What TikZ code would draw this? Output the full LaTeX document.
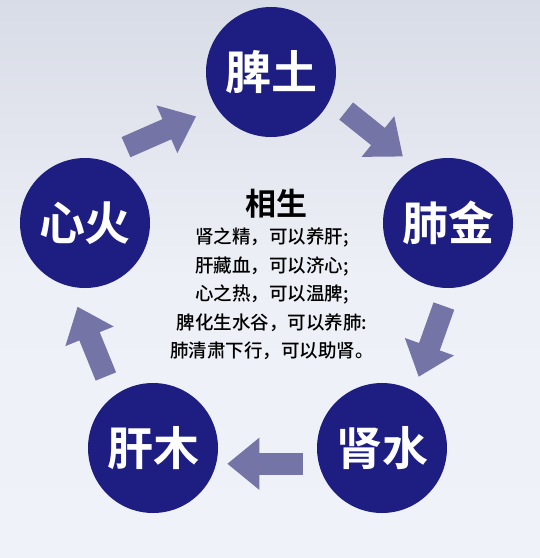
\documentclass[tikz,border=0pt]{standalone}
\usepackage{fontspec}
\newfontfamily\cjk{Noto Sans CJK SC}[BoldFont={Noto Sans CJK SC Bold}]
\newfontfamily\cjkm{Noto Sans CJK SC Medium}
\usetikzlibrary{arrows.meta}
\definecolor{cNavy}{RGB}{30,30,130}
\definecolor{cArrow}{RGB}{116,116,166}
\definecolor{bgTop}{RGB}{216,220,230}
\definecolor{bgMid}{RGB}{238,240,247}
\definecolor{bgBot}{RGB}{240,242,249}
\tikzset{
  wx/.style={circle,fill=cNavy,inner sep=0pt,minimum size=130pt,text=white,
    font=\cjk\bfseries\fontsize{46}{46}\selectfont},
  sheng/.style={draw=cArrow,line width=22pt,-{Triangle[length=32pt,width=50pt]}},
}

\begin{document}
\begin{tikzpicture}[x=1pt,y=-1pt]
\shade[top color=bgTop,bottom color=bgBot,middle color=bgMid] (0,0) rectangle (540,558);
\path[use as bounding box] (0,0) rectangle (540,558);
% wu xing
\node[wx] (pi) at (271,72) {脾土};
\node[wx] (fei) at (448,223) {肺金};
\node[wx] (shen) at (382,448) {肾水};
\node[wx] (gan) at (153,448) {肝木};
\node[wx] (xin) at (85,223) {心火};
% xiang sheng
\draw[sheng,shorten <=30pt,shorten >=22pt] (xin.78) -- (pi.213);
\draw[sheng,shorten <=20pt,shorten >=16pt] (pi.-24) -- (fei.120);
\draw[sheng,shorten <=19pt,shorten >=15pt] (fei.-88) -- (shen.61);
\draw[sheng,shorten <=16pt,shorten >=11pt] (shen.194) -- (gan.-14);
\draw[sheng,shorten <=21pt,shorten >=22pt] (gan.127) -- (xin.-104);
% text
\node[font=\cjk\bfseries\fontsize{31}{31}\selectfont] (title) at (276,204) {相生};
\node[font=\cjkm\fontsize{18.5}{28.5}\selectfont,align=center] (body) at (272,294)
  {肾之精，可以养肝;\\肝藏血，可以济心;\\心之热，可以温脾;\\脾化生水谷，可以养肺:\\肺清肃下行，可以助肾。};
\end{tikzpicture}
\end{document}
